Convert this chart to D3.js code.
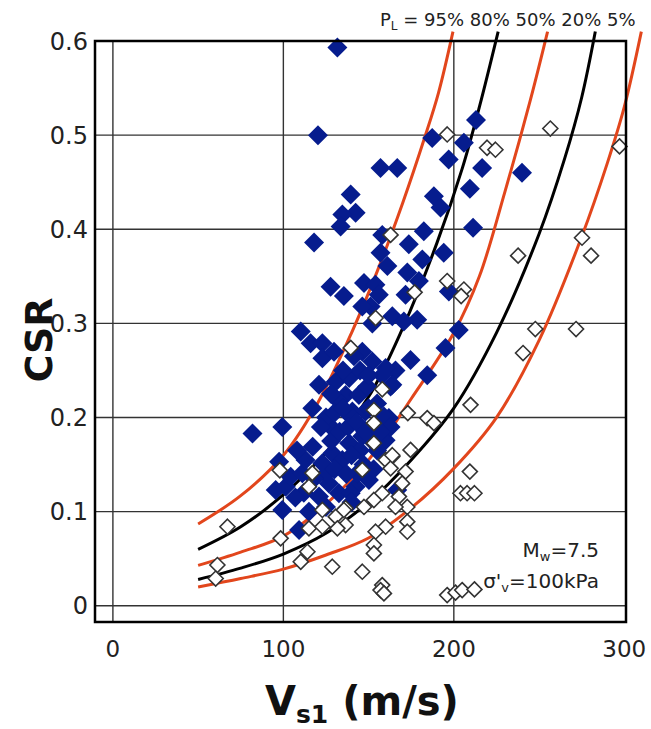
<!DOCTYPE html>
<html><head><meta charset="utf-8">
<script src="https://cdn.jsdelivr.net/npm/d3@7"></script>
<style>body{margin:0;background:#fff}svg{display:block}</style>
</head><body>
<div id="chart"></div>
<script>
// ---- data ----
const xTicks = [0, 100, 200, 300];
const yTicks = [0, 0.1, 0.2, 0.3, 0.4, 0.5, 0.6];
const yTickLabels = ["0", "0.1", "0.2", "0.3", "0.4", "0.5", "0.6"];
const curveLabels = ["95%", "80%", "50%", "20%", "5%"];

// probability curves [Vs1, CSR]
const curvePL95 = [[50,0.087],[75,0.117],[100,0.160],[120,0.215],[140,0.290],[155,0.355],[170,0.428],[183,0.498],[191,0.545],[199.5,0.61]];
const curvePL80 = [[50,0.060],[75,0.084],[100,0.118],[125,0.163],[150,0.222],[170,0.295],[190,0.385],[205,0.465],[215,0.530],[226,0.61]];
const curvePL50 = [[50,0.043],[75,0.057],[100,0.074],[125,0.108],[150,0.155],[175,0.220],[200,0.290],[215,0.350],[230,0.440],[245,0.538],[255,0.61]];
const curvePL20 = [[50,0.028],[75,0.040],[100,0.055],[125,0.077],[150,0.110],[175,0.155],[200,0.210],[225,0.290],[250,0.395],[265,0.475],[275,0.540],[283,0.61]];
const curvePL5  = [[50,0.020],[75,0.029],[100,0.039],[125,0.054],[150,0.072],[175,0.104],[200,0.146],[225,0.200],[250,0.282],[275,0.392],[290,0.47],[300,0.53],[310,0.61]];

// liquefied sites (filled)
const liqVs  = [131.7,120.3,213,187.3,205.9,197,157,166.8,216.6,240,209.4,139.5,188.3,192.2,142.4,134.6,133.6,211.3,182.4,158,118,173.6,181.5,194.1,157,161,172.7,147.3,135.5,127.7,179.5,197.1,171.7,151.2,163.9,178.5,170.7,152.2,202.9,195.1,184.4,174.6,165.8,154,146.3,156,110.2,116,122.9,122.9,129.7,146.3,152.2,120.9,130.7,138.6,136.5,144.3,117,163.9,160,140.5,148.2,161.9,81.9,99.4,128.7,141.4,97.5,95.5,101.4,99.4,104.3,111.1,117.2,122.9,128.7,134.6,138.6,146.3,132.6,120.9,142.4,150.2,109.2,126.7,160,131.7,139.5,159,162.9,149.2,162.9,166.8,139.5,143.4,
  125,130,135,128,133,138,143,148,152,155,145,140,125,118,113,108,130,137,147,153,157,150,145,135,128,112,107,125,115,140,155,158,150,122];
const liqCSR = [0.593,0.500,0.516,0.497,0.492,0.474,0.465,0.465,0.465,0.46,0.443,0.437,0.435,0.423,0.4175,0.4157,0.403,0.4015,0.398,0.394,0.386,0.384,0.368,0.375,0.375,0.361,0.354,0.343,0.329,0.339,0.345,0.334,0.3305,0.318,0.3075,0.304,0.302,0.300,0.293,0.274,0.245,0.261,0.250,0.341,0.318,0.3305,0.2915,0.279,0.279,0.263,0.270,0.270,0.2596,0.2348,0.238,0.2419,0.224,0.224,0.210,0.2348,0.2526,0.2064,0.2064,0.1994,0.183,0.190,0.1887,0.265,0.153,0.123,0.1266,0.1018,0.137,0.1408,0.169,0.1515,0.162,0.155,0.1728,0.180,0.1196,0.116,0.1266,0.1337,0.0805,0.130,0.176,0.219,0.201,0.201,0.190,0.233,0.233,0.123,0.1196,0.1408,
  0.200,0.205,0.210,0.175,0.185,0.190,0.195,0.185,0.175,0.165,0.165,0.160,0.140,0.135,0.155,0.165,0.145,0.140,0.150,0.145,0.185,0.210,0.250,0.250,0.225,0.120,0.115,0.105,0.100,0.110,0.215,0.245,0.245,0.190];

// non-liquefied sites (open)
const nonVs  = [196.1,219.5,224.4,256.6,297.2,275.2,280.5,237.7,247.8,271.7,240.6,162.9,196.1,205.9,204.3,177,154.1,139.5,158,209.8,209.4,203.9,207.8,212.1,196.1,201,204.9,212.1,153.1,173,184.4,188.3,153.1,174.6,163.9,160,162.9,171.7,169.7,146.3,158,167.8,153.1,147.3,172.7,136.5,130.7,172.7,160,136.5,154.1,172.7,153.1,153.1,146.3,158,157,128.7,97.9,117,115,153.1,122.9,135.5,67.2,98.4,115,122.9,110.2,114.1,61.3,60.3,159,165.8,163.9,131.7];
const nonCSR = [0.5007,0.4866,0.4845,0.507,0.488,0.391,0.372,0.372,0.294,0.294,0.2685,0.394,0.345,0.336,0.329,0.333,0.3057,0.274,0.230,0.2135,0.1426,0.1196,0.1196,0.1196,0.0114,0.014,0.0167,0.0174,0.208,0.2047,0.1994,0.194,0.194,0.1656,0.1585,0.155,0.146,0.1426,0.130,0.1444,0.1196,0.116,0.1124,0.105,0.105,0.1036,0.0947,0.0894,0.084,0.0858,0.0787,0.0787,0.0646,0.0557,0.0362,0.022,0.0167,0.0415,0.144,0.141,0.1266,0.1728,0.1018,0.1018,0.084,0.0717,0.0823,0.084,0.0468,0.0574,0.0433,0.029,0.0132,0.105,0.160,0.0823];

// ---- drawing ----
const W = 651, H = 729;
const FL = 95, FR = 626, FT = 41, FB = 622;
const FONT = "'DejaVu Sans', Verdana, sans-serif";
const svg = d3.select("#chart").append("svg").attr("width", W).attr("height", H);

const x = d3.scaleLinear().domain([-10.5, 301]).range([FL, FR]);
const y = d3.scaleLinear().domain([-0.0172, 0.6]).range([FB, FT]);

// grid
const grid = svg.append("g");
grid.selectAll("line.v").data(xTicks.filter(d => d < 300)).join("line")
  .attr("x1", d => x(d)).attr("x2", d => x(d)).attr("y1", FT).attr("y2", FB)
  .attr("stroke", "#333").attr("stroke-width", 1.4);
grid.selectAll("line.h").data(yTicks.filter(d => d < 0.6)).join("line")
  .attr("y1", d => y(d)).attr("y2", d => y(d)).attr("x1", FL).attr("x2", FR)
  .attr("stroke", "#333").attr("stroke-width", 1.4);

// curves
const line = d3.line().x(d => x(d[0])).y(d => y(d[1])).curve(d3.curveCatmullRom.alpha(0.5));
const curves = [
  {pts: curvePL95, color: "#e2461c"},
  {pts: curvePL80, color: "#000"},
  {pts: curvePL50, color: "#e2461c"},
  {pts: curvePL20, color: "#000"},
  {pts: curvePL5,  color: "#e2461c"}
];
svg.append("g").selectAll("path").data(curves).join("path")
  .attr("d", d => line(d.pts)).attr("fill", "none")
  .attr("stroke", d => d.color).attr("stroke-width", 3);

// markers
const diamond = r => `M0,${-r}L${r},0L0,${r}L${-r},0Z`;
svg.append("g").selectAll("path").data(d3.range(liqVs.length)).join("path")
  .attr("transform", i => `translate(${x(liqVs[i])},${y(liqCSR[i])})`)
  .attr("d", diamond(10)).attr("fill", "#061c8e");
svg.append("g").selectAll("path").data(d3.range(nonVs.length)).join("path")
  .attr("transform", i => `translate(${x(nonVs[i])},${y(nonCSR[i])})`)
  .attr("d", diamond(7.5)).attr("fill", "#fff").attr("stroke", "#333").attr("stroke-width", 1.6);

// frame
svg.append("rect").attr("x", FL).attr("y", FT).attr("width", FR - FL).attr("height", FB - FT)
  .attr("fill", "none").attr("stroke", "#000").attr("stroke-width", 2.5);

// tick labels
svg.append("g").selectAll("text").data(yTicks).join("text")
  .attr("x", 88).attr("y", d => y(d)).attr("dy", "0.36em").attr("text-anchor", "end")
  .attr("font-family", FONT).attr("font-size", 24).attr("fill", "#222")
  .text((d, i) => yTickLabels[i]);
svg.append("g").selectAll("text").data(xTicks).join("text")
  .attr("x", d => x(d)).attr("y", 657).attr("text-anchor", "middle")
  .attr("font-family", FONT).attr("font-size", 23).attr("fill", "#222")
  .text(d => d);

// axis titles
svg.append("text").attr("transform", "translate(52,340) rotate(-90)")
  .attr("text-anchor", "middle").attr("font-family", FONT).attr("font-weight", "bold")
  .attr("font-size", 38).attr("fill", "#111").text("CSR");
const xt = svg.append("text").attr("x", 265).attr("y", 715).attr("text-anchor", "start")
  .attr("font-family", FONT).attr("font-weight", "bold").attr("font-size", 40).attr("fill", "#111");
xt.append("tspan").text("V");
xt.append("tspan").attr("font-size", 25).attr("dy", 8).text("s1");
xt.append("tspan").attr("dy", -8).text(" (m/s)");

// top label
const tl = svg.append("text").attr("x", 380).attr("y", 26).attr("font-family", FONT)
  .attr("font-size", 18).attr("fill", "#222");
tl.append("tspan").text("P");
tl.append("tspan").attr("font-size", 12).attr("dy", 4).text("L");
tl.append("tspan").attr("dy", -4).text(" = " + curveLabels.join(" "));

// annotation
const a1 = svg.append("text").attr("x", 599).attr("y", 557).attr("text-anchor", "end")
  .attr("font-family", FONT).attr("font-size", 20).attr("fill", "#222");
a1.append("tspan").text("M");
a1.append("tspan").attr("font-size", 13).attr("dy", 4).text("w");
a1.append("tspan").attr("dy", -4).text("=7.5");
const a2 = svg.append("text").attr("x", 599).attr("y", 588).attr("text-anchor", "end")
  .attr("font-family", FONT).attr("font-size", 20).attr("fill", "#222");
a2.append("tspan").text("σ'");
a2.append("tspan").attr("font-size", 13).attr("dy", 4).text("v");
a2.append("tspan").attr("dy", -4).text("=100kPa");
</script>
</body></html>
